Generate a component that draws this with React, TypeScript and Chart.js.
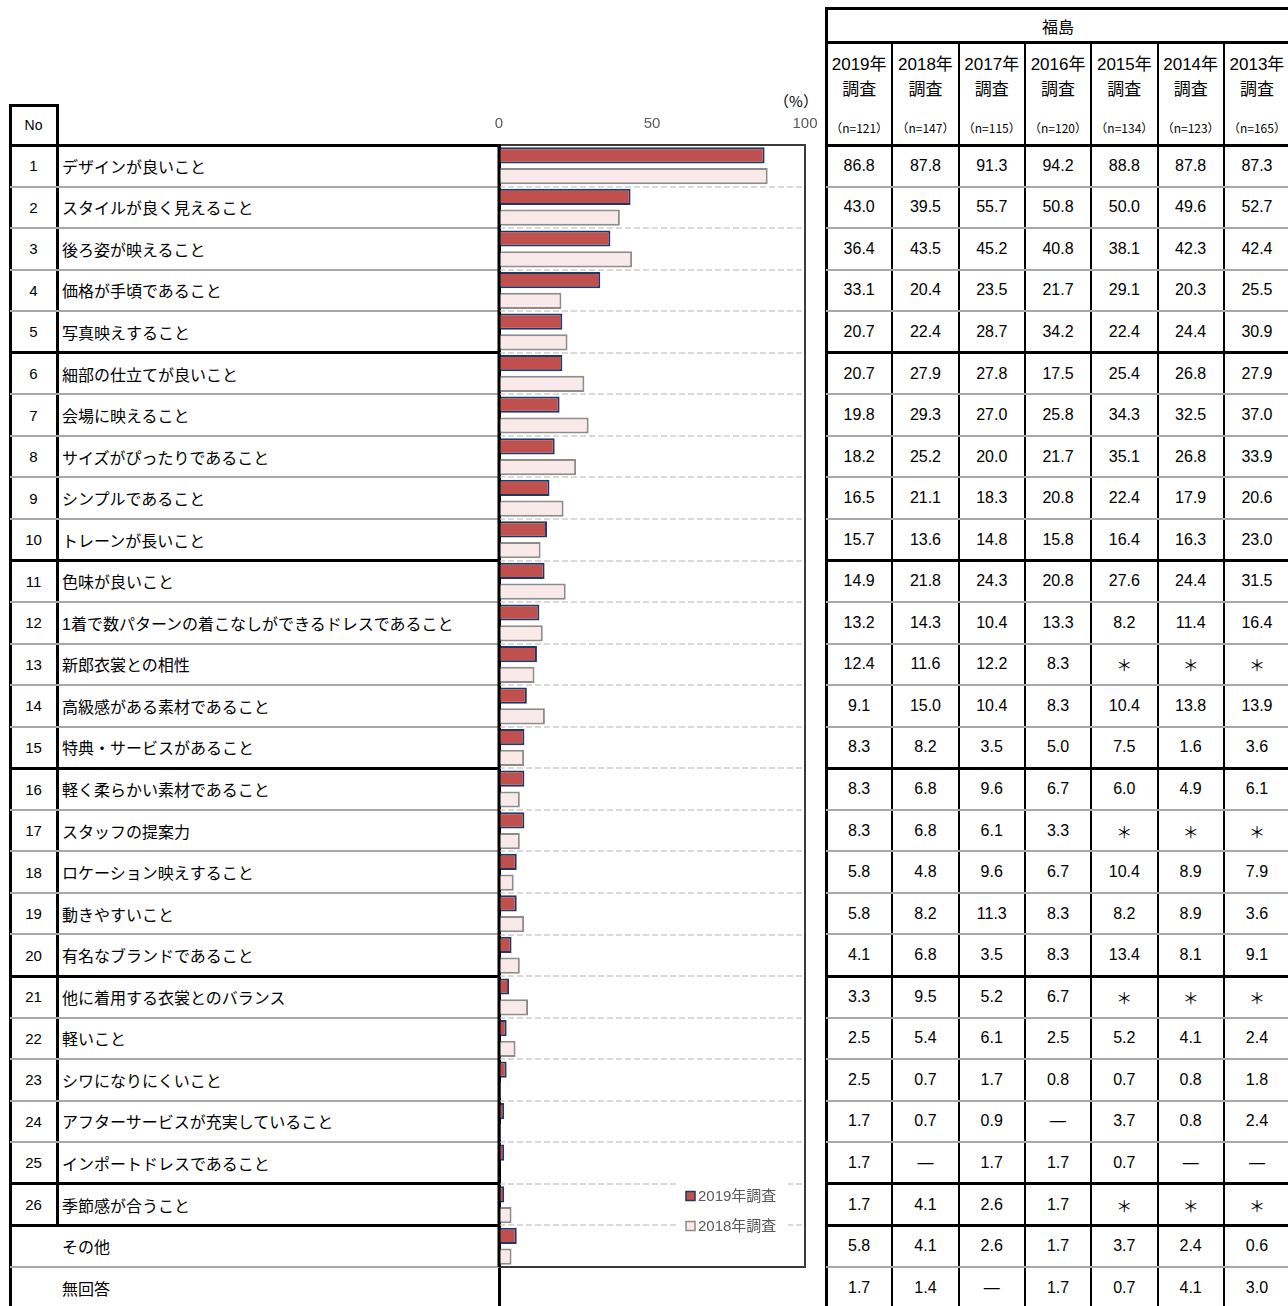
import React, { useEffect, useRef } from 'react';
import { Chart, registerables } from 'chart.js';

Chart.register(...registerables);

const FONT = '"Liberation Sans", "Noto Sans CJK JP", sans-serif';
const JFONT = '"Noto Sans CJK JP", sans-serif';

const rowNumbers = ['1','2','3','4','5','6','7','8','9','10','11','12','13','14','15','16','17','18','19','20','21','22','23','24','25','26','',''];

const categories = [
  'デザインが良いこと',
  'スタイルが良く見えること',
  '後ろ姿が映えること',
  '価格が手頃であること',
  '写真映えすること',
  '細部の仕立てが良いこと',
  '会場に映えること',
  'サイズがぴったりであること',
  'シンプルであること',
  'トレーンが長いこと',
  '色味が良いこと',
  '1着で数パターンの着こなしができるドレスであること',
  '新郎衣裳との相性',
  '高級感がある素材であること',
  '特典・サービスがあること',
  '軽く柔らかい素材であること',
  'スタッフの提案力',
  'ロケーション映えすること',
  '動きやすいこと',
  '有名なブランドであること',
  '他に着用する衣裳とのバランス',
  '軽いこと',
  'シワになりにくいこと',
  'アフターサービスが充実していること',
  'インポートドレスであること',
  '季節感が合うこと',
  'その他',
  '無回答',
];

const values2019: (number | null)[] = [86.8, 43.0, 36.4, 33.1, 20.7, 20.7, 19.8, 18.2, 16.5, 15.7, 14.9, 13.2, 12.4, 9.1, 8.3, 8.3, 8.3, 5.8, 5.8, 4.1, 3.3, 2.5, 2.5, 1.7, 1.7, 1.7, 5.8, 1.7];
const values2018: (number | null)[] = [87.8, 39.5, 43.5, 20.4, 22.4, 27.9, 29.3, 25.2, 21.1, 13.6, 21.8, 14.3, 11.6, 15.0, 8.2, 6.8, 6.8, 4.8, 8.2, 6.8, 9.5, 5.4, 0.7, 0.7, null, 4.1, 4.1, 1.4];
const col2017 = ['91.3','55.7','45.2','23.5','28.7','27.8','27.0','20.0','18.3','14.8','24.3','10.4','12.2','10.4','3.5','9.6','6.1','9.6','11.3','3.5','5.2','6.1','1.7','0.9','1.7','2.6','2.6','—'];
const col2016 = ['94.2','50.8','40.8','21.7','34.2','17.5','25.8','21.7','20.8','15.8','20.8','13.3','8.3','8.3','5.0','6.7','3.3','6.7','8.3','8.3','6.7','2.5','0.8','—','1.7','1.7','1.7','1.7'];
const col2015 = ['88.8','50.0','38.1','29.1','22.4','25.4','34.3','35.1','22.4','16.4','27.6','8.2','＊','10.4','7.5','6.0','＊','10.4','8.2','13.4','＊','5.2','0.7','3.7','0.7','＊','3.7','0.7'];
const col2014 = ['87.8','49.6','42.3','20.3','24.4','26.8','32.5','26.8','17.9','16.3','24.4','11.4','＊','13.8','1.6','4.9','＊','8.9','8.9','8.1','＊','4.1','0.8','0.8','—','＊','2.4','4.1'];
const col2013 = ['87.3','52.7','42.4','25.5','30.9','27.9','37.0','33.9','20.6','23.0','31.5','16.4','＊','13.9','3.6','6.1','＊','7.9','3.6','9.1','＊','2.4','1.8','2.4','—','＊','0.6','3.0'];

const regionTitle = '福島';
const yearHeaders = ['2019年', '2018年', '2017年', '2016年', '2015年', '2014年', '2013年'];
const sampleSizes = ['（n=121）', '（n=147）', '（n=115）', '（n=120）', '（n=134）', '（n=123）', '（n=165）'];
const seriesLabels = ['2019年調査', '2018年調査'];
const xTicks = [0, 50, 100];
const unitLabel = '（%）';

const fmt = (v: number | null) => (v === null ? '—' : v.toFixed(1));

const TOP = 145;
const ROW_H = 41.55;
const THICK_AFTER = [5, 10, 15, 20, 25, 26];
const RT_LEFT = 826;
const COL_W = 66.3;

const frameAndLegend = {
  id: 'frameAndLegend',
  afterDatasetsDraw(chart: any) {
    const { ctx, chartArea: a } = chart;
    ctx.save();
    ctx.strokeStyle = '#3a3a3a';
    ctx.lineWidth = 2;
    ctx.beginPath();
    ctx.moveTo(a.left, a.top);
    ctx.lineTo(a.right, a.top);
    ctx.lineTo(a.right, a.bottom);
    ctx.lineTo(a.left, a.bottom);
    ctx.stroke();
    ctx.strokeStyle = '#000';
    ctx.lineWidth = 3;
    ctx.beginPath();
    ctx.moveTo(a.left, a.top - 1);
    ctx.lineTo(a.left, a.bottom);
    ctx.stroke();

    const boxR = a.right - 17;
    const boxL = boxR - 110;
    ctx.fillStyle = '#ffffff';
    ctx.fillRect(boxL, a.bottom - 88, 110, 61);
    const ys = [a.bottom - 71, a.bottom - 41];
    chart.data.datasets.forEach((ds: any, i: number) => {
      const y = ys[i];
      ctx.fillStyle = ds.backgroundColor;
      ctx.strokeStyle = ds.borderColor;
      ctx.lineWidth = 1.5;
      ctx.fillRect(boxL + 8, y - 4.5, 9, 9);
      ctx.strokeRect(boxL + 8, y - 4.5, 9, 9);
      ctx.fillStyle = '#595959';
      ctx.font = '15px ' + FONT;
      ctx.textBaseline = 'middle';
      ctx.textAlign = 'left';
      ctx.fillText(ds.label, boxL + 20, y + 1);
    });
    ctx.restore();
  },
};

function HLine({ x1, x2, y, thick }: { x1: number; x2: number; y: number; thick: boolean }) {
  const w = thick ? 3 : 2;
  return (
    <div
      style={{
        position: 'absolute',
        left: x1,
        top: Math.round(y - w / 2),
        width: x2 - x1,
        height: w,
        background: thick ? '#000' : '#a8a8a8',
      }}
    />
  );
}

function VLine({ x, y1, y2, w }: { x: number; y1: number; y2: number; w: number }) {
  return (
    <div
      style={{
        position: 'absolute',
        left: Math.round(x - w / 2),
        top: y1,
        width: w,
        height: y2 - y1,
        background: '#000',
      }}
    />
  );
}

function Cell({ x, y, w, h, text, align = 'center', size = 16, pad = 0, family = FONT }: any) {
  return (
    <div
      style={{
        position: 'absolute',
        left: x,
        top: y,
        width: w,
        height: h,
        display: 'flex',
        alignItems: 'center',
        justifyContent: align === 'left' ? 'flex-start' : 'center',
        paddingLeft: pad,
        boxSizing: 'border-box',
        fontSize: size,
        fontFamily: family,
        color: '#000',
        whiteSpace: 'nowrap',
        textSpacingTrim: 'space-all',
      } as any}
    >
      {text}
    </div>
  );
}

export default function App() {
  const ref = useRef<HTMLCanvasElement>(null);

  useEffect(() => {
    const n = 27;
    const chart = new Chart(ref.current as HTMLCanvasElement, {
      type: 'bar',
      data: {
        labels: categories.slice(0, n),
        datasets: [
          {
            label: seriesLabels[0],
            data: values2019.slice(0, n),
            backgroundColor: '#C0504D',
            borderColor: '#1F3864',
            borderWidth: 2,
            barPercentage: 0.78,
            categoryPercentage: 1,
          },
          {
            label: seriesLabels[1],
            data: values2018.slice(0, n),
            backgroundColor: '#F9EAE9',
            borderColor: '#8C8C8C',
            borderWidth: 2,
            barPercentage: 0.78,
            categoryPercentage: 1,
          },
        ],
      } as any,
      options: {
        indexAxis: 'y',
        responsive: false,
        animation: false,
        devicePixelRatio: 1,
        layout: { padding: { left: 29, right: 25, top: 0, bottom: 2 } },
        plugins: { legend: { display: false }, tooltip: { enabled: false } },
        scales: {
          x: {
            position: 'top',
            min: 0,
            max: 100,
            afterBuildTicks: (s: any) => {
              s.ticks = xTicks.map((v) => ({ value: v }));
            },
            ticks: {
              color: '#595959',
              font: { size: 15, family: FONT },
              padding: 4,
              maxRotation: 0,
            },
            grid: { display: false },
            border: { display: false },
            afterFit: (s: any) => {
              s.height = 45;
            },
          },
          y: {
            ticks: { display: false },
            grid: {
              color: '#D9D9D9',
              lineWidth: 2,
              offset: true,
              drawTicks: false,
            },
            border: { display: false, dash: [6, 3] },
            afterFit: (s: any) => {
              s.width = 0;
            },
          },
        },
      } as any,
      plugins: [frameAndLegend],
    });
    return () => chart.destroy();
  }, []);

  const rightCols = [
    values2019.map(fmt),
    values2018.map(fmt),
    col2017,
    col2016,
    col2015,
    col2014,
    col2013,
  ];

  const elements: React.ReactNode[] = [];

  categories.forEach((c, i) => {
    const y = TOP + i * ROW_H;
    if (rowNumbers[i]) {
      elements.push(<Cell key={'no' + i} x={10} y={y} w={47} h={ROW_H} text={rowNumbers[i]} size={15} />);
    }
    elements.push(<Cell key={'lb' + i} x={57} y={y} w={440} h={ROW_H} text={c} align="left" pad={5} size={16} />);
    rightCols.forEach((col, j) => {
      elements.push(
        <Cell key={'v' + i + '_' + j} x={RT_LEFT + j * COL_W} y={y} w={COL_W} h={ROW_H} text={col[i]} size={16} />
      );
    });
  });

  for (let k = 1; k <= 27; k++) {
    const y = TOP + k * ROW_H;
    const thick = THICK_AFTER.includes(k);
    elements.push(<HLine key={'hl' + k} x1={10} x2={499} y={y} thick={thick} />);
    elements.push(<HLine key={'hr' + k} x1={RT_LEFT} x2={1288} y={y} thick={thick} />);
  }

  return (
    <div style={{ position: 'absolute', left: 0, top: 0, width: 1288, height: 1306, overflow: 'hidden', background: '#fff' }}>
      <Cell x={10} y={105} w={47} h={40} text="No" size={14} />
      <HLine x1={10} x2={57} y={105} thick />
      <HLine x1={10} x2={499} y={TOP} thick />
      <VLine x={10} y1={104} y2={1306} w={3} />
      <VLine x={57} y1={104} y2={TOP + 26 * ROW_H} w={3} />
      <VLine x={499} y1={TOP} y2={1306} w={3} />

      <HLine x1={RT_LEFT} x2={1288} y={8} thick />
      <HLine x1={RT_LEFT} x2={1288} y={42} thick />
      <HLine x1={RT_LEFT} x2={1288} y={TOP} thick />
      <VLine x={RT_LEFT} y1={7} y2={1306} w={3} />
      {yearHeaders.map((_, j) =>
        j > 0 ? <VLine key={'vc' + j} x={RT_LEFT + j * COL_W} y1={42} y2={1306} w={2} /> : null
      )}
      <Cell x={RT_LEFT} y={9} w={7 * COL_W} h={33} text={regionTitle} size={16} />
      {yearHeaders.map((yh, j) => (
        <React.Fragment key={'yh' + j}>
          <Cell x={RT_LEFT + j * COL_W} y={50} w={COL_W} h={24} text={yh} size={17} />
          <Cell x={RT_LEFT + j * COL_W} y={75} w={COL_W} h={24} text="調査" size={17} />
          <Cell x={RT_LEFT + j * COL_W} y={117} w={COL_W} h={20} text={sampleSizes[j]} size={12} family={JFONT} />
        </React.Fragment>
      ))}

      {elements}

      <Cell x={756} y={88} w={80} h={24} text={unitLabel} size={15} family={JFONT} />

      <canvas
        ref={ref}
        width={360}
        height={1169}
        style={{ position: 'absolute', left: 470, top: 100, width: 360, height: 1169 }}
      />
    </div>
  );
}
